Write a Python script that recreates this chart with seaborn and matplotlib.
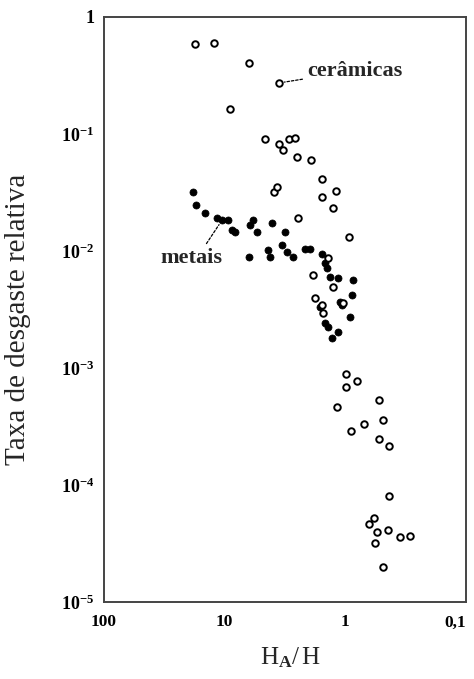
import matplotlib
matplotlib.use("Agg")
import matplotlib.pyplot as plt
import matplotlib.transforms as mtransforms
import pandas as pd
import seaborn as sns

# Relative wear rate versus abrasive/surface hardness ratio
ceramic_ratio = [17.6, 12.3, 6.3, 3.55, 9.0, 4.6, 3.55, 3.29, 2.93, 2.62,
                 2.52, 1.93, 1.56, 1.56, 1.20, 1.27, 3.9, 3.69, 2.47, 0.933,
                 1.85, 1.39, 1.27, 1.79, 1.56, 1.53, 1.05,
                 0.99, 0.80, 0.99, 1.17, 0.527, 0.70, 0.90, 0.488, 0.527, 0.435,
                 0.435, 0.58, 0.637, 0.547, 0.444, 0.353, 0.292, 0.569, 0.488]
ceramic_wear = [0.588, 0.60, 0.404, 0.273, 0.164, 0.0906, 0.0822, 0.073, 0.0906, 0.0925,
                0.0636, 0.060, 0.0412, 0.0290, 0.0326, 0.0233, 0.0319, 0.0352, 0.0191, 0.0132,
                0.00624, 0.00871, 0.00492, 0.00397, 0.00345, 0.00295, 0.0036,
                0.00089, 0.000774, 0.000688, 0.000464, 0.000533, 0.000332, 0.00029, 0.00036,
                0.000247, 0.000215,
                8.05e-5, 5.22e-5, 4.64e-5, 3.97e-5, 4.12e-5, 3.59e-5, 3.66e-5, 3.19e-5, 1.99e-5]

metal_ratio = [18.3, 17.3, 14.6, 11.6, 10.5, 9.4, 8.7, 8.2, 6.2, 5.8,
               5.4, 4.06, 6.3, 4.38, 4.22, 3.16, 3.35, 3.05, 2.72, 2.16,
               1.96, 1.56, 1.47, 1.42, 1.34, 1.15, 0.865, 0.88, 1.11, 1.07,
               0.916, 1.47, 1.39, 1.15, 1.29, 1.62]
metal_wear = [0.0319, 0.0247, 0.0211, 0.0191, 0.0184, 0.0184, 0.0151, 0.0145, 0.0167, 0.0184,
              0.0145, 0.0173, 0.00889, 0.0102, 0.00889, 0.0145, 0.01125, 0.0098, 0.00889, 0.0104,
              0.0104, 0.00942, 0.00789, 0.00716, 0.0060, 0.00588, 0.00565, 0.00421, 0.00367, 0.00345,
              0.00273, 0.00243, 0.00224, 0.00203, 0.0018, 0.00332]

x_ticks = [100, 10, 1, 0.1]
x_tick_labels = ["100", "10", "1", "0,1"]
y_ticks = [1, 1e-1, 1e-2, 1e-3, 1e-4, 1e-5]
y_tick_labels = ["1", r"$\mathbf{10^{-1}}$", r"$\mathbf{10^{-2}}$",
                 r"$\mathbf{10^{-3}}$", r"$\mathbf{10^{-4}}$", r"$\mathbf{10^{-5}}$"]

ceramics = pd.DataFrame({"ratio": ceramic_ratio, "wear": ceramic_wear})
metals = pd.DataFrame({"ratio": metal_ratio, "wear": metal_wear})

sns.set_theme(style="white")
plt.rcParams["font.family"] = ["Liberation Serif", "DejaVu Serif"]
plt.rcParams["mathtext.fontset"] = "custom"
plt.rcParams["mathtext.rm"] = "Liberation Serif"
plt.rcParams["mathtext.bf"] = "Liberation Serif:bold"
plt.rcParams["mathtext.it"] = "Liberation Serif:italic"

fig = plt.figure(figsize=(4.74, 6.79), dpi=100)
ax = fig.add_axes([104 / 474, 77 / 679, 362 / 474, 585 / 679])

sns.scatterplot(data=metals, x="ratio", y="wear", ax=ax, marker="o", s=26,
                color="black", edgecolor="black", linewidth=0.5, zorder=3)
sns.scatterplot(data=ceramics, x="ratio", y="wear", ax=ax, marker="o", s=22,
                color="white", edgecolor="black", linewidth=1.4, zorder=4)

ax.set_xscale("log")
ax.set_yscale("log")
ax.set_xlim(100, 0.1)
ax.set_ylim(1e-5, 1)

ax.set_xticks(x_ticks)
ax.set_xticklabels(x_tick_labels, fontsize=12.5, fontweight="bold")
ax.set_yticks(y_ticks)
ax.set_yticklabels(y_tick_labels, fontsize=13, fontweight="bold")
ax.minorticks_off()
ax.tick_params(axis="both", direction="in", length=5, width=1.0,
               color="#444444", labelcolor="black")
ax.tick_params(axis="x", pad=9)
ax.tick_params(axis="y", pad=7)

# keep the last x tick label inside the figure edge
last_label = ax.get_xticklabels()[-1]
last_label.set_transform(last_label.get_transform()
                         + mtransforms.ScaledTranslation(-8 / 72, 0, fig.dpi_scale_trans))

for spine in ax.spines.values():
    spine.set_color("#444444")
    spine.set_linewidth(1.4)

ax.set_xlabel(r"$\mathrm{H}_{\mathbf{A}}\mathrm{/\,H}$", fontsize=18)
ax.xaxis.set_label_coords(0.514, -0.074)
ax.set_ylabel("Taxa de desgaste relativa", fontsize=21)
ax.yaxis.set_label_coords(-0.203, 0.484)

dash = (0, (2.0, 1.5))
ax.annotate("cerâmicas", xy=(3.55, 0.273), xycoords="data",
            xytext=(0.561, 0.908), textcoords="axes fraction",
            ha="left", va="center", fontsize=16, fontweight="bold",
            arrowprops=dict(arrowstyle="-", linestyle=dash, lw=0.9,
                            color="black", shrinkA=1, shrinkB=4))
ax.annotate("metais", xy=(10.5, 0.0184), xycoords="data",
            xytext=(0.155, 0.588), textcoords="axes fraction",
            ha="left", va="center", fontsize=16, fontweight="bold",
            arrowprops=dict(arrowstyle="-", linestyle=dash, lw=0.9,
                            color="black", shrinkA=1, shrinkB=4,
                            relpos=(0.7, 1.0)))

fig.savefig("out.png", dpi=100)
